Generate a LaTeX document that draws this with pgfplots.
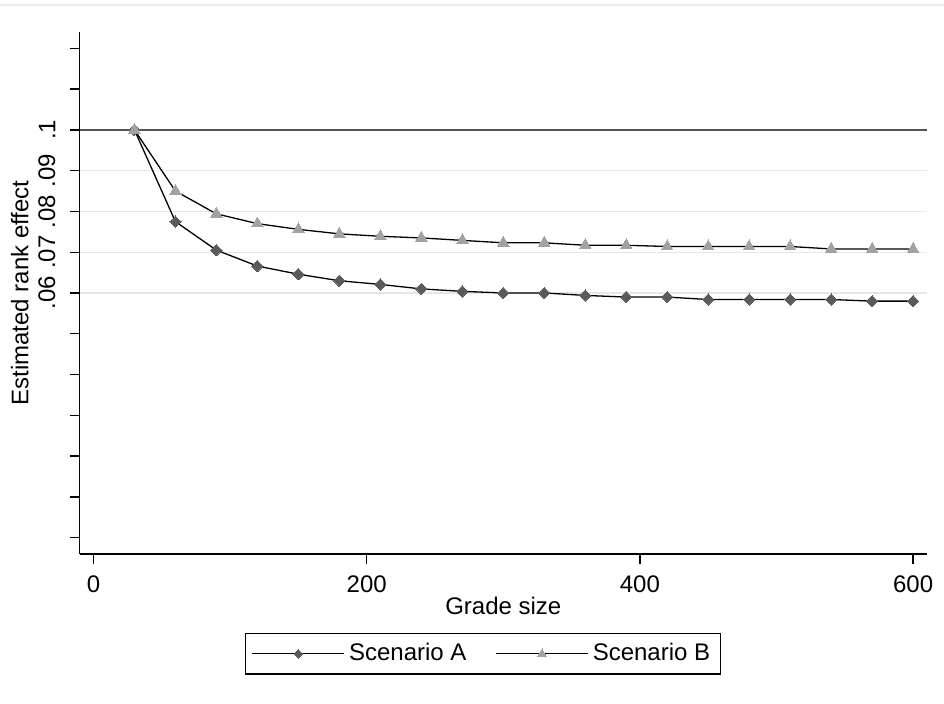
\documentclass[border=0pt]{standalone}
\usepackage{pgfplots}
\pgfplotsset{compat=1.18}
\usepackage{fontspec}
\setmainfont{Liberation Sans}

\definecolor{markA}{HTML}{5A5A5A}
\definecolor{markB}{HTML}{A2A2A2}
\definecolor{gridc}{HTML}{E6E6E6}
\definecolor{refline}{HTML}{555555}

\pgfplotstableread{
x     a       b
30    0.1000  0.1000
60    0.0775  0.0850
90    0.0705  0.0794
120   0.0666  0.0770
150   0.0646  0.0756
180   0.0630  0.0745
210   0.0621  0.0739
240   0.0610  0.0735
270   0.0604  0.0729
300   0.0600  0.0723
330   0.0600  0.0723
360   0.0594  0.0717
390   0.0590  0.0717
420   0.0590  0.0714
450   0.0584  0.0714
480   0.0584  0.0714
510   0.0584  0.0714
540   0.0584  0.0708
570   0.0580  0.0708
600   0.0580  0.0708
}\rankdata

\begin{document}
\begin{tikzpicture}
\path[use as bounding box] (-39.9pt,-75pt) rectangle (432.1pt,277pt);
\begin{axis}[
    at={(0,0)}, anchor=south west,
    scale only axis,
    width=423.5pt, height=261pt,
    xmin=-10, xmax=610,
    ymin=-0.004, ymax=0.124,
    axis x line*=bottom,
    axis y line*=left,
    axis line style={line width=0.7pt, black},
    every tick/.style={line width=0.7pt, black},
    tick align=outside,
    major tick length=5pt,
    xtick={0,200,400,600},
    ytick={0,0.01,0.02,0.03,0.04,0.05,0.06,0.07,0.08,0.09,0.1,0.11,0.12},
    yticklabels={,,,,,,{.06},{.07},{.08},{.09},{.1},,},
    extra y ticks={0.06,0.07,0.08,0.09},
    extra y tick labels={},
    extra y tick style={grid=major, major grid style={gridc, line width=0.6pt}, major tick length=0pt},
    tick label style={font=\fontsize{12}{14}\selectfont},
    label style={font=\fontsize{12}{14}\selectfont},
    /pgf/number format/assume math mode=true,
    xticklabel style={anchor=north, inner sep=0pt},
    xticklabel shift=5.5pt,
    yticklabel style={rotate=90, anchor=south, inner sep=0pt},
    yticklabel shift=7pt,
    xlabel={Grade size},
    ylabel={Estimated rank effect},
    xlabel style={at={(axis description cs:0.5,0)}, anchor=north, inner sep=0pt, yshift=-21.5pt},
    ylabel style={at={(axis description cs:-0.0708,0.5)}, anchor=center, inner sep=0pt},
    clip=false,
    legend columns=2,
    legend cell align=left,
    legend style={
        at={(axis description cs:0.476,-0.1513)}, anchor=north,
        draw=black, line width=0.6pt,
        inner xsep=3pt, inner ysep=3pt,
        font=\fontsize{12}{14}\selectfont,
        /tikz/every even column/.append style={column sep=12.5pt},
    },
    legend image code/.code={
        \draw[mark repeat=2, mark phase=2, line width=0.65pt]
        plot coordinates {(0pt,0pt) (23pt,0pt) (46pt,0pt)};
    },
    legend image post style={/tikz/every mark/.append style={scale=0.75}},
]
\draw[refline, line width=0.75pt] (axis cs:-10,0.1) -- (axis cs:610,0.1);

\addplot[black, line width=0.65pt, mark=square*, mark size=2pt,
    mark options={rotate=45, fill=markA, draw=markA, line width=0pt}]
    table[x=x, y=a] {\rankdata};
\addlegendentry{Scenario A}

\addplot[black, line width=0.65pt, mark=triangle*, mark size=3.3pt,
    mark options={fill=markB, draw=markB, line width=0pt}]
    table[x=x, y=b] {\rankdata};
\addlegendentry{Scenario B}
\end{axis}
\draw[black!7, line width=0.8pt] (-39.9pt,274.5pt) -- (432.1pt,274.5pt);
\end{tikzpicture}
\end{document}
